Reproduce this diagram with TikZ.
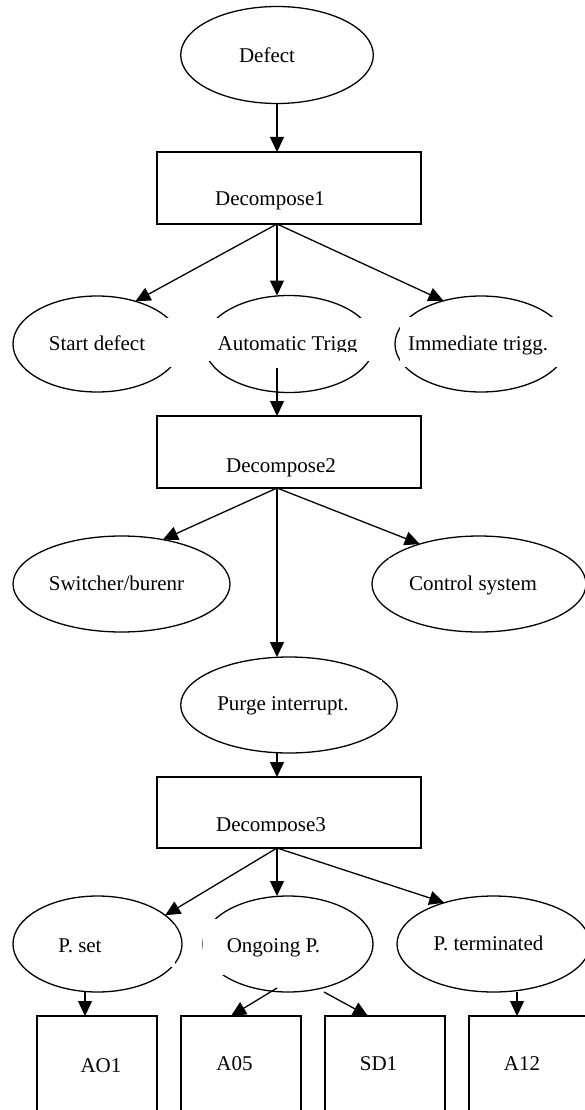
\documentclass[tikz,border=0pt]{standalone}
\usepackage{fontspec}
\setmainfont{Liberation Serif}
\usetikzlibrary{shapes.geometric,arrows.meta}
\begin{document}
\begin{tikzpicture}[x=1pt,y=-1pt,
  every node/.style={font=\fontsize{21}{25}\selectfont},
  oval/.style={ellipse,draw,line width=1.3pt,inner sep=0pt,outer sep=0pt},
  boxn/.style={rectangle,draw,line width=1.3pt,inner sep=0pt,outer sep=0pt},
  gap/.style={rectangle,fill=white,inner sep=0pt,outer sep=0pt},
  lbl/.style={anchor=base,inner sep=0pt},
  arr/.style={-{Triangle[length=15pt,width=14pt]},line width=1.3pt}]
\clip (0,0) rectangle (585,1110);
\fill[white] (0,0) rectangle (585,1110);

% ellipses
\node[oval,minimum width=192.6pt,minimum height=97pt] (def) at (277,55) {};
\node[oval,minimum width=168pt,minimum height=96pt] (sd) at (97,344) {};
\node[oval,minimum width=170pt,minimum height=97pt] (at) at (289,344) {};
\node[oval,minimum width=172pt,minimum height=96pt] (it) at (481,344) {};
\node[oval,minimum width=217pt,minimum height=96pt] (sw) at (121.5,584) {};
\node[oval,minimum width=214pt,minimum height=96pt] (cs) at (479,584) {};
\node[oval,minimum width=216.6pt,minimum height=96pt] (pi) at (289,705) {};
\node[oval,minimum width=169pt,minimum height=96pt] (ps) at (97.5,944) {};
\node[oval,minimum width=170pt,minimum height=96pt] (op) at (288,944) {};
\node[oval,minimum width=193pt,minimum height=96pt] (pt) at (493.5,944) {};

% rectangles
\node[boxn,minimum width=264pt,minimum height=72pt] (d1) at (289,188) {};
\node[boxn,minimum width=264pt,minimum height=72pt] (d2) at (289,452) {};
\node[boxn,minimum width=264pt,minimum height=71pt] (d3) at (289,812.5) {};
\node[boxn,minimum width=120pt,minimum height=114pt] (ao1) at (97,1073) {};
\node[boxn,minimum width=120pt,minimum height=114pt] (a05) at (241,1073) {};
\node[boxn,minimum width=120pt,minimum height=114pt] (sd1) at (385,1073) {};
\node[boxn,minimum width=120pt,minimum height=114pt] (a12) at (529,1073) {};

% white text boxes that cut the ellipse outlines
\node[gap,minimum width=160pt,minimum height=49pt] (sdgap) at (115,342.5) {};
\node[gap,minimum width=180pt,minimum height=43pt] (atgap) at (290,339.5) {};
\node[gap,minimum width=178pt,minimum height=50pt] (itgap) at (489,342) {};
\node[gap,minimum width=169pt,minimum height=42pt] (swgap) at (115.5,579) {};
\node[gap,minimum width=171pt,minimum height=42pt] (csgap) at (474.5,579) {};
\node[gap,minimum width=185pt,minimum height=40pt] (pigap) at (289.5,700) {};
\node[gap,minimum width=135pt,minimum height=42pt] (psgap) at (107.5,946) {};
\node[gap,minimum width=142.4pt,minimum height=56pt] (opgap) at (273.8,947) {};

% labels
\node[lbl] (tdef) at (267,63) {Defect};
\node[lbl] (td1) at (270,205) {Decompose1};
\node[lbl] (tsd) at (97,350) {Start defect};
\begin{scope}
\clip (200,318) rectangle (380,351);
\node[lbl] (tat) at (287.5,350) {Automatic Trigg};
\end{scope}
\node[lbl] (tit) at (478,350) {Immediate trigg.};
\node[lbl] (td2) at (281,472) {Decompose2};
\node[lbl] (tsw) at (116.5,590) {Switcher/burenr};
\node[lbl] (tcs) at (473,590) {Control system};
\node[lbl] (tpi) at (283,710) {Purge interrupt.};
\begin{scope}
\clip (157,777) rectangle (421,831.5);
\node[lbl] (td3) at (271,831) {Decompose3};
\end{scope}
\node[lbl] (tps) at (80,952) {P. set};
\node[lbl] (top) at (273.5,952) {Ongoing P.};
\node[lbl] (tpt) at (488.5,950) {P. terminated};
\node[lbl] (tao1) at (101,1072) {AO1};
\node[lbl] (ta05) at (234.5,1070) {A05};
\node[lbl] (tsd1) at (378.5,1070) {SD1};
\node[lbl] (ta12) at (522,1070) {A12};

% connector reference points
\coordinate (ax) at (277,0);
\coordinate (atb) at (277,368);
\coordinate (psb) at (85,992);
\coordinate (opl) at (277,988);
\coordinate (opr) at (324,992);
\coordinate (ptb) at (517,992);

% connectors
\draw[arr] (def.south -| ax) -- (ax |- d1.north);
\draw[arr] (d1.south -| ax) -- (sd.48);
\draw[arr] (d1.south -| ax) -- (ax |- at.north);
\draw[arr] (d1.south -| ax) -- (it.131);
\draw[arr] (atb) -- (atb |- d2.north);
\draw[arr] (d2.south -| ax) -- (sw.47);
\draw[arr] (d2.south -| ax) -- (ax |- pi.north);
\draw[arr] (d2.south -| ax) -- (cs.146);
\draw[arr] (pi.south -| ax) -- (ax |- d3.north);
\draw[arr] (d3.south -| ax) -- (ps.23);
\draw[arr] (d3.south -| ax) -- (ax |- op.north);
\draw[arr] (d3.south -| ax) -- (pt.140);
\draw[arr] (psb) -- (psb |- ao1.north);
\draw[arr] (opl) -- ([xshift=-10pt]a05.north);
\draw[arr] (opr) -- ([xshift=-17pt]sd1.north);
\draw[arr] (ptb) -- (ptb |- a12.north);
\end{tikzpicture}
\end{document}
